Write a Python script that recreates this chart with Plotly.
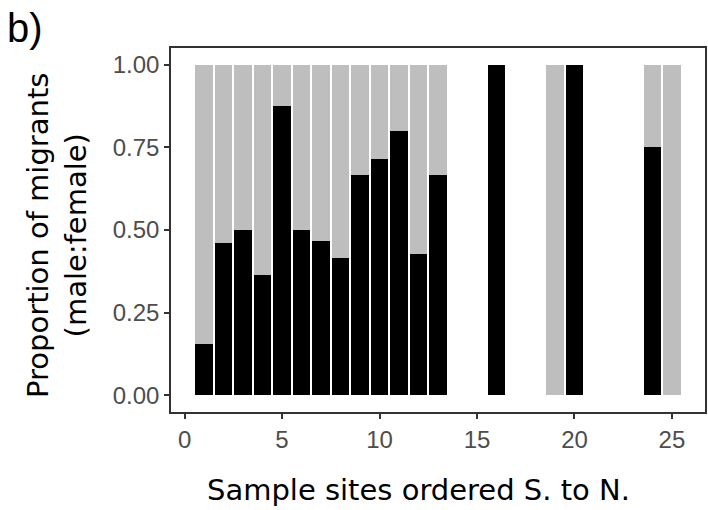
import plotly.graph_objects as go

sites = [1, 2, 3, 4, 5, 6, 7, 8, 9, 10, 11, 12, 13, 16, 19, 20, 24, 25]
male = [0.154, 0.4615, 0.5, 0.364, 0.875, 0.5, 0.4667, 0.4167, 0.6667, 0.714,
        0.8, 0.4286, 0.6667, 1.0, 0.0, 1.0, 0.75, 0.0]
female = [round(1 - m, 4) for m in male]

y_ticks = [0, 0.25, 0.5, 0.75, 1.0]
y_ticklabels = ["0.00", "0.25", "0.50", "0.75", "1.00"]
x_ticks = [0, 5, 10, 15, 20, 25]

W, H = 708, 510
L, R, T, B = 171, 1, 48, 98
pw, ph = W - L - R, H - T - B

fig = go.Figure()
fig.add_trace(go.Bar(x=sites, y=male, width=0.9, marker=dict(color="#000000", line=dict(width=0)),
                     name="male", showlegend=False))
fig.add_trace(go.Bar(x=sites, y=female, width=0.9, marker=dict(color="#BEBEBE", line=dict(width=0)),
                     name="female", showlegend=False))

axis_common = dict(showline=True, linecolor="#333333", linewidth=1.5, mirror=True,
                   ticks="outside", ticklen=5, tickwidth=1.5, tickcolor="#333333",
                   showgrid=False, zeroline=False,
                   tickfont=dict(family="Liberation Sans", size=24, color="#4D4D4D"))

fig.update_layout(
    barmode="stack",
    width=W, height=H,
    margin=dict(l=L, r=R, t=T, b=B, pad=0),
    paper_bgcolor="white", plot_bgcolor="white",
    xaxis=dict(range=[-0.695, 26.695], tickvals=x_ticks, **axis_common),
    yaxis=dict(range=[-0.05, 1.05], tickvals=y_ticks, ticktext=y_ticklabels, **axis_common),
    annotations=[
        dict(text="Sample sites ordered S. to N.", xref="paper", yref="paper",
             x=(419 - L) / pw, y=-(490 - (T + ph)) / ph, xanchor="center", yanchor="middle",
             showarrow=False, font=dict(family="DejaVu Sans", size=29, color="black")),
        dict(text="Proportion of migrants<br>(male:female)", xref="paper", yref="paper",
             x=(57 - L) / pw, y=((T + ph) - 235.5) / ph, xanchor="center", yanchor="middle",
             textangle=-90, showarrow=False,
             font=dict(family="DejaVu Sans", size=29, color="black")),
        dict(text="b)", xref="paper", yref="paper",
             x=(4 - L) / pw, y=((T + ph) - 4) / ph, xanchor="left", yanchor="top",
             showarrow=False, font=dict(family="Liberation Sans", size=40, color="black")),
    ],
)

fig.write_html("out.html")
